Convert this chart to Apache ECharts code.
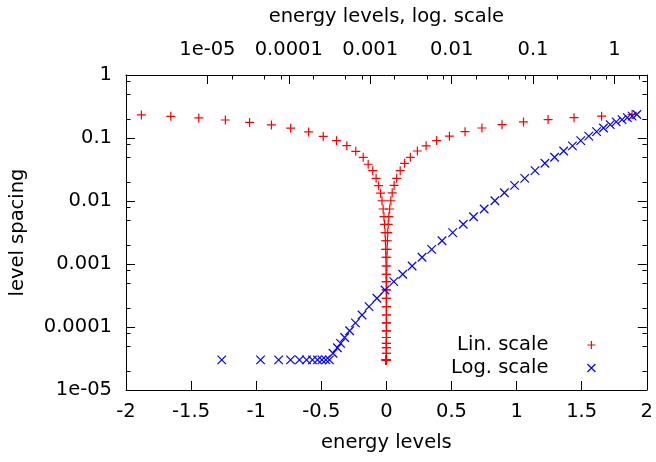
<!DOCTYPE html>
<html><head><meta charset="utf-8">
<script src="https://cdn.jsdelivr.net/npm/echarts@6/dist/echarts.min.js"></script>
<style>html,body{margin:0;padding:0;background:#fff}#c{width:656px;height:462px}</style>
</head><body><div id="c"></div>
<script>
// Positive energy levels and their level spacing
const levelsPos = [1.5e-5, 4.5e-5, 7.5e-5, 1.05e-4, 1.35e-4, 1.65e-4, 1.95e-4, 2.25e-4, 2.55e-4, 2.85e-4, 3.15e-4,
  3.49e-4, 3.95e-4, 4.33e-4, 4.85e-4, 5.59e-4, 6.58e-4, 7.94e-4, 9.68e-4, 1.21e-3, 1.52e-3, 1.95e-3, 2.51e-3,
  3.27e-3, 4.34e-3, 5.69e-3, 7.62e-3, 1.03e-2, 1.39e-2, 1.86e-2, 2.51e-2, 3.40e-2, 4.45e-2, 5.93e-2, 7.91e-2,
  0.106, 0.140, 0.184, 0.238, 0.305, 0.386, 0.484, 0.604, 0.734, 0.888, 1.053, 1.242, 1.441, 1.653, 1.887];
const spacingPos = [3.0e-5, 3.0e-5, 3.0e-5, 3.0e-5, 3.0e-5, 3.0e-5, 3.0e-5, 3.0e-5, 3.0e-5, 3.0e-5, 3.0e-5,
  3.83e-5, 4.69e-5, 5.51e-5, 6.81e-5, 8.71e-5, 1.16e-4, 1.55e-4, 2.11e-4, 2.86e-4, 3.87e-4, 5.24e-4, 6.87e-4,
  9.3e-4, 1.28e-3, 1.71e-3, 2.34e-3, 3.14e-3, 4.27e-3, 5.63e-3, 7.47e-3, 1.01e-2, 1.35e-2, 1.77e-2, 2.29e-2,
  3.03e-2, 3.97e-2, 4.94e-2, 6.22e-2, 7.5e-2, 9.1e-2, 0.107, 0.126, 0.144, 0.163, 0.180, 0.196, 0.210, 0.222, 0.236];
// Negative energy levels and their level spacing
const levelsNeg = [-1.882, -1.656, -1.441, -1.237, -1.051, -0.883, -0.735, -0.597, -0.485, -0.383, -0.304, -0.235,
  -0.178, -0.140, -0.105, -0.079, -0.0593, -0.0445, -3.40e-2, -2.51e-2, -1.86e-2, -1.39e-2, -1.03e-2, -7.62e-3,
  -5.69e-3, -4.34e-3, -3.27e-3, -2.51e-3, -1.95e-3, -1.52e-3, -1.21e-3, -9.68e-4, -7.94e-4, -6.58e-4, -5.59e-4,
  -4.85e-4, -4.33e-4, -3.95e-4, -3.49e-4, -3.15e-4, -2.85e-4, -2.55e-4, -2.25e-4, -1.95e-4, -1.65e-4, -1.35e-4,
  -1.05e-4, -7.5e-5, -4.5e-5, -1.5e-5];
const spacingNeg = [0.232, 0.221, 0.208, 0.193, 0.177, 0.161, 0.143, 0.125, 0.106, 0.0906, 0.0755, 0.0615,
  0.0494, 0.0383, 0.0303, 0.0229, 0.0175, 0.0133, 1.01e-2, 7.47e-3, 5.63e-3, 4.27e-3, 3.14e-3, 2.34e-3,
  1.71e-3, 1.28e-3, 9.3e-4, 6.87e-4, 5.24e-4, 3.87e-4, 2.86e-4, 2.11e-4, 1.55e-4, 1.16e-4, 8.71e-5,
  6.81e-5, 5.51e-5, 4.69e-5, 3.83e-5, 3.0e-5, 3.0e-5, 3.0e-5, 3.0e-5, 3.0e-5, 3.0e-5, 3.0e-5,
  3.0e-5, 3.0e-5, 3.0e-5, 3.0e-5];

const xTicks = [-2, -1.5, -1, -0.5, 0, 0.5, 1, 1.5, 2];
const xTickLabels = ['-2', '-1.5', '-1', '-0.5', '0', '0.5', '1', '1.5', '2'];
const logTicks = [1e-5, 1e-4, 1e-3, 1e-2, 0.1, 1];
const logTickLabels = ['1e-05', '0.0001', '0.001', '0.01', '0.1', '1'];
const yMinorTicks = [2e-5, 5e-5, 8e-5, 2e-4, 5e-4, 8e-4, 2e-3, 5e-3, 8e-3, 0.02, 0.05, 0.08, 0.2, 0.5, 0.8];
const x2MinorTicks = [2e-5, 5e-5, 8e-5, 2e-4, 5e-4, 8e-4, 2e-3, 5e-3, 8e-3, 0.02, 0.05, 0.08, 0.2, 0.5, 0.8, 2];

const seriesNames = ['Lin. scale', 'Log. scale'];
const FONT = 'DejaVu Sans';
const FS = 19.5;
const PLUS = 'path://M0,4L8,4M4,0L4,8';
const CROSS = 'path://M0,0L8,8M8,0L0,8';
const PLUS_LEG = 'path://M0,4L0,4M34,4L42,4M38,0L38,8';
const CROSS_LEG = 'path://M0,4L0,4M34,0L42,8M42,0L34,8';

function logLabel(v) {
  const i = logTicks.findIndex(t => Math.abs(Math.log10(t) - Math.log10(v)) < 1e-6);
  return i >= 0 ? logTickLabels[i] : '';
}
function linLabel(v) {
  const i = xTicks.findIndex(t => Math.abs(t - v) < 1e-9);
  return i >= 0 ? xTickLabels[i] : '';
}

const lbl = { fontFamily: FONT, fontSize: FS, color: '#000' };
const showLine = { show: true, onZero: false, lineStyle: { color: '#000', width: 1 } };
const hideLine = { show: false, onZero: false };
const tickMajor = { show: true, inside: true, length: 9, lineStyle: { color: '#000', width: 1 } };
const tickMinor = { show: true, inside: true, length: 4.5, lineStyle: { color: '#000', width: 1 } };

const redPts = levelsNeg.map((e, i) => [e, spacingNeg[i]]).concat(levelsPos.map((e, i) => [e, spacingPos[i]]));
const bluePts = levelsPos.map((e, i) => [e, spacingPos[i]]);

const chart = echarts.init(document.getElementById('c'), null, { renderer: 'canvas' });
chart.setOption({
  animation: false,
  backgroundColor: '#fff',
  textStyle: { fontFamily: FONT },
  grid: { left: 125, right: 8, top: 75, bottom: 72, show: false },
  legend: [
    { right: 60, top: 335, padding: 0, align: 'right', orient: 'vertical', itemWidth: 42, itemHeight: 8,
      textStyle: lbl, selectedMode: false,
      itemStyle: { color: '#ff0000', borderColor: '#ff0000', borderWidth: 1.2 },
      data: [{ name: seriesNames[0], icon: PLUS_LEG }] },
    { right: 60, top: 358, padding: 0, align: 'right', orient: 'vertical', itemWidth: 42, itemHeight: 8,
      textStyle: lbl, selectedMode: false,
      itemStyle: { color: '#0000ff', borderColor: '#0000ff', borderWidth: 1.2 },
      data: [{ name: seriesNames[1], icon: CROSS_LEG }] }
  ],
  xAxis: [
    { type: 'value', position: 'bottom', min: -2, max: 2, interval: 0.5,
      name: 'energy levels', nameLocation: 'middle', nameGap: 43, nameTextStyle: lbl,
      axisLine: showLine, splitLine: { show: false },
      axisTick: Object.assign({}, tickMajor, { customValues: xTicks }),
      axisLabel: Object.assign({}, lbl, { margin: 12, customValues: xTicks, formatter: linLabel, showMinLabel: true, showMaxLabel: true }) },
    { type: 'log', logBase: 10, position: 'top', min: 1e-6, max: 2.5,
      name: 'energy levels, log. scale', nameLocation: 'middle', nameGap: 48, nameTextStyle: lbl,
      axisLine: showLine, splitLine: { show: false },
      axisTick: Object.assign({}, tickMajor, { customValues: logTicks }),
      axisLabel: Object.assign({}, lbl, { margin: 15, customValues: logTicks, formatter: logLabel }) },
    { type: 'log', logBase: 10, position: 'top', min: 1e-6, max: 2.5,
      axisLine: hideLine, splitLine: { show: false }, axisLabel: { show: false },
      axisTick: Object.assign({}, tickMinor, { customValues: x2MinorTicks }) }
  ],
  yAxis: [
    { type: 'log', logBase: 10, position: 'left', min: 1e-5, max: 1,
      name: 'level spacing', nameLocation: 'middle', nameGap: 98, nameTextStyle: lbl,
      axisLine: showLine, splitLine: { show: false },
      axisTick: Object.assign({}, tickMajor, { customValues: logTicks }),
      axisLabel: Object.assign({}, lbl, { margin: 14, customValues: logTicks, formatter: logLabel }) },
    { type: 'log', logBase: 10, position: 'left', min: 1e-5, max: 1,
      axisLine: hideLine, splitLine: { show: false }, axisLabel: { show: false },
      axisTick: Object.assign({}, tickMinor, { customValues: yMinorTicks }) },
    { type: 'log', logBase: 10, position: 'right', min: 1e-5, max: 1,
      axisLine: showLine, splitLine: { show: false }, axisLabel: { show: false },
      axisTick: Object.assign({}, tickMajor, { customValues: logTicks }) },
    { type: 'log', logBase: 10, position: 'right', min: 1e-5, max: 1,
      axisLine: hideLine, splitLine: { show: false }, axisLabel: { show: false },
      axisTick: Object.assign({}, tickMinor, { customValues: yMinorTicks }) }
  ],
  series: [
    { name: seriesNames[0], type: 'scatter', xAxisIndex: 0, yAxisIndex: 0, data: redPts,
      symbol: PLUS, symbolSize: 9, silent: true,
      itemStyle: { color: '#ff0000', borderColor: '#ff0000', borderWidth: 1.2, opacity: 1 } },
    { name: seriesNames[1], type: 'scatter', xAxisIndex: 1, yAxisIndex: 0, data: bluePts,
      symbol: CROSS, symbolSize: 8.5, silent: true,
      itemStyle: { color: '#0000ff', borderColor: '#0000ff', borderWidth: 1.2, opacity: 1 } }
  ]
});
</script>
</body></html>
